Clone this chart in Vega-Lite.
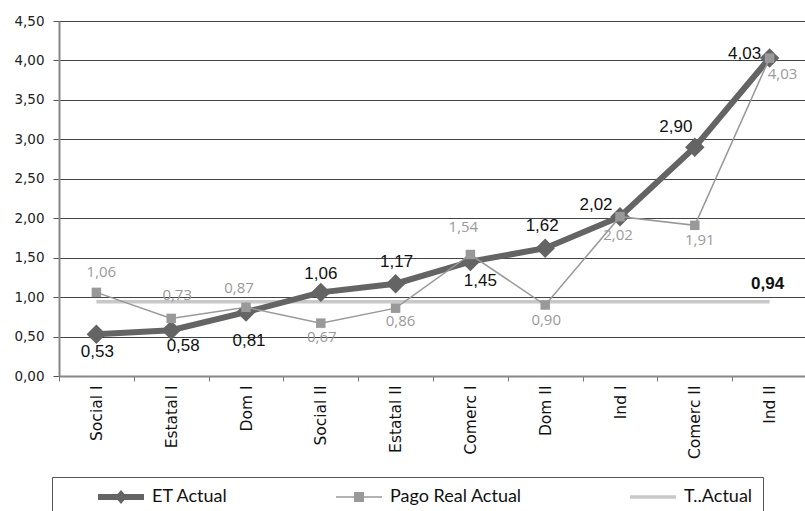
{
  "$schema": "https://vega.github.io/schema/vega-lite/v6.json",
  "width": 748,
  "height": 355,
  "autosize": {"type": "none"},
  "padding": {"left": 59, "top": 21, "right": 0, "bottom": 135},
  "background": "white",
  "config": {
    "view": {"stroke": null},
    "locale": {"number": {"decimal": ",", "thousands": ".", "grouping": [3], "currency": ["", ""]}},
    "axisY": {
      "title": null, "values": [0, 0.5, 1, 1.5, 2, 2.5, 3, 3.5, 4, 4.5],
      "format": ".2f", "grid": true, "gridColor": "#444444", "gridWidth": 1,
      "domainColor": "#888888", "domainWidth": 2,
      "tickColor": "#555555", "tickSize": 6, "tickWidth": 1,
      "labelFont": "DejaVu Sans", "labelFontSize": 13.5, "labelColor": "#222222",
      "labelPadding": 9
    }
  },
  "data": {
    "values": [
      {"cat": "Social I", "et": 0.53, "pago": 1.06, "t": 0.94},
      {"cat": "Estatal I", "et": 0.58, "pago": 0.73, "t": 0.94},
      {"cat": "Dom I", "et": 0.81, "pago": 0.87, "t": 0.94},
      {"cat": "Social II", "et": 1.06, "pago": 0.67, "t": 0.94},
      {"cat": "Estatal II", "et": 1.17, "pago": 0.86, "t": 0.94},
      {"cat": "Comerc I", "et": 1.45, "pago": 1.54, "t": 0.94},
      {"cat": "Dom II", "et": 1.62, "pago": 0.90, "t": 0.94},
      {"cat": "Ind I", "et": 2.02, "pago": 2.02, "t": 0.94},
      {"cat": "Comerc II", "et": 2.90, "pago": 1.91, "t": 0.94},
      {"cat": "Ind II", "et": 4.03, "pago": 4.03, "t": 0.94}
    ]
  },
  "encoding": {
    "x": {
      "field": "cat", "type": "nominal", "sort": null,
      "scale": {"paddingInner": 0, "paddingOuter": 0},
      "axis": {
        "title": null, "labelAngle": -90, "tickBand": "extent",
        "domainColor": "#888888", "domainWidth": 2,
        "tickColor": "#777777", "tickSize": 5, "tickWidth": 1,
        "labelFont": "DejaVu Sans", "labelFontSize": 15.5, "labelColor": "#111111",
        "labelPadding": 4, "grid": false
      }
    }
  },
  "layer": [
    {
      "mark": {"type": "line", "color": "#c8c8c8", "strokeWidth": 3.5},
      "encoding": {
        "y": {"field": "t", "type": "quantitative", "title": null,
          "scale": {"domain": [0, 4.5], "nice": false, "zero": true}}
      }
    },
    {
      "mark": {"type": "line", "color": "#646464", "strokeWidth": 6},
      "encoding": {"y": {"field": "et", "type": "quantitative", "title": null}}
    },
    {
      "mark": {"type": "point", "shape": "diamond", "filled": true, "color": "#646464", "size": 380, "opacity": 1},
      "encoding": {"y": {"field": "et", "type": "quantitative", "title": null}}
    },
    {
      "mark": {"type": "line", "color": "#999999", "strokeWidth": 1.5},
      "encoding": {"y": {"field": "pago", "type": "quantitative", "title": null}}
    },
    {
      "mark": {"type": "point", "shape": "square", "filled": true, "color": "#999999", "size": 90, "opacity": 1},
      "encoding": {"y": {"field": "pago", "type": "quantitative", "title": null}}
    },
    {
      "transform": [{"fold": ["et", "pago", "t"], "as": ["key", "val"]}],
      "mark": {"type": "point", "filled": true, "opacity": 0},
      "encoding": {
        "y": {"field": "val", "type": "quantitative", "title": null},
        "color": {
          "field": "key", "type": "nominal",
          "scale": {"domain": ["et", "pago", "t"], "range": ["#646464", "#999999", "#c8c8c8"]},
          "legend": {
            "orient": "none", "legendX": -7, "legendY": 456,
            "direction": "horizontal", "columns": 3, "columnPadding": 108,
            "title": "\u00a0", "titleOrient": "left", "titlePadding": 36, "titleFontSize": 4,
            "padding": 10, "strokeColor": "#555555", "fillColor": "white",
            "symbolSize": 400, "symbolStrokeWidth": 0, "symbolOpacity": 1,
            "labelOffset": 34, "labelFont": "Lato", "labelFontSize": 18,
            "labelColor": "#111111", "labelLimit": 0,
            "labelExpr": "datum.label == 'et' ? 'ET Actual' : datum.label == 'pago' ? 'Pago Real Actual' : 'T..Actual\u00a0\u00a0\u00a0\u00a0\u00a0\u00a0\u00a0\u00a0\u00a0\u00a0\u00a0\u00a0'"
          }
        },
        "shape": {
          "field": "key", "type": "nominal",
          "scale": {
            "domain": ["et", "pago", "t"],
            "range": [
              "M-1,-0.3H3.6V0.3H-1Z M0.7,0L1.3,-0.7L1.9,0L1.3,0.7Z",
              "M-1,-0.08H3.6V0.08H-1Z M0.8,-0.5H1.8V0.5H0.8Z",
              "M-1,-0.17H3.6V0.17H-1Z"
            ]
          },
          "legend": {
            "orient": "none", "legendX": -7, "legendY": 456,
            "direction": "horizontal", "columns": 3, "columnPadding": 108,
            "title": "\u00a0", "titleOrient": "left", "titlePadding": 36, "titleFontSize": 4,
            "padding": 10, "strokeColor": "#555555", "fillColor": "white",
            "symbolSize": 400, "symbolStrokeWidth": 0, "symbolOpacity": 1,
            "labelOffset": 34, "labelFont": "Lato", "labelFontSize": 18,
            "labelColor": "#111111", "labelLimit": 0,
            "labelExpr": "datum.label == 'et' ? 'ET Actual' : datum.label == 'pago' ? 'Pago Real Actual' : 'T..Actual\u00a0\u00a0\u00a0\u00a0\u00a0\u00a0\u00a0\u00a0\u00a0\u00a0\u00a0\u00a0'"
          }
        }
      }
    },
    {
      "mark": {
        "type": "text", "font": "Liberation Sans", "fontSize": 17, "color": "#111111",
        "align": "center", "baseline": "middle",
        "dx": {"expr": "[1,12,3,0,1,10,-3,-24,-19,-25][indexof(['Social I','Estatal I','Dom I','Social II','Estatal II','Comerc I','Dom II','Ind I','Comerc II','Ind II'], datum.cat)]"},
        "dy": {"expr": "[18,16,29,-18,-22,19,-22,-12,-20,-4][indexof(['Social I','Estatal I','Dom I','Social II','Estatal II','Comerc I','Dom II','Ind I','Comerc II','Ind II'], datum.cat)]"}
      },
      "encoding": {
        "y": {"field": "et", "type": "quantitative", "title": null},
        "text": {"field": "et", "type": "quantitative", "format": ".2f"}
      }
    },
    {
      "mark": {
        "type": "text", "font": "Open Sans", "fontSize": 15, "color": "#9a9a9a",
        "align": "center", "baseline": "middle",
        "dx": {"expr": "[5,6,-7,1,5,-7,1,-2,5,13][indexof(['Social I','Estatal I','Dom I','Social II','Estatal II','Comerc I','Dom II','Ind I','Comerc II','Ind II'], datum.cat)]"},
        "dy": {"expr": "[-20,-23,-19,14,13,-28,15,18,15,16][indexof(['Social I','Estatal I','Dom I','Social II','Estatal II','Comerc I','Dom II','Ind I','Comerc II','Ind II'], datum.cat)]"}
      },
      "encoding": {
        "y": {"field": "pago", "type": "quantitative", "title": null},
        "text": {"field": "pago", "type": "quantitative", "format": ".2f"}
      }
    },
    {
      "transform": [{"filter": "datum.cat == 'Ind II'"}],
      "mark": {
        "type": "text", "font": "Liberation Sans", "fontSize": 17, "fontWeight": "bold",
        "color": "#111111", "align": "center", "baseline": "middle", "dx": -2, "dy": -18
      },
      "encoding": {
        "y": {"field": "t", "type": "quantitative", "title": null},
        "text": {"field": "t", "type": "quantitative", "format": ".2f"}
      }
    }
  ]
}
